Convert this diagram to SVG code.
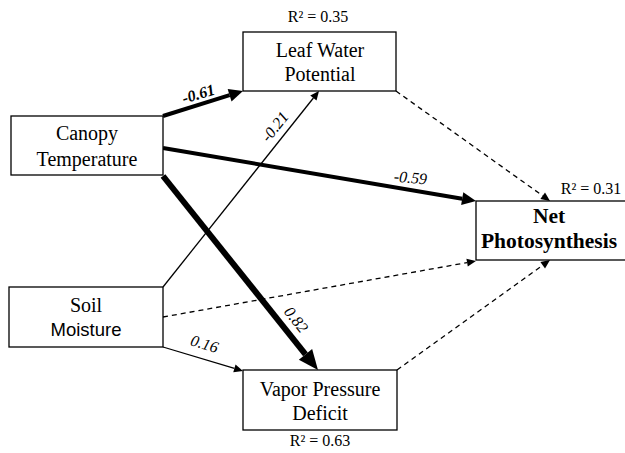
<svg xmlns="http://www.w3.org/2000/svg" width="625" height="453" viewBox="0 0 625 453">
<defs>
<style>
.box{fill:#fff;stroke:#000;stroke-width:1.3}
.t{font-size:20px;text-anchor:middle;fill:#000}
.ts{font-size:18.5px;text-anchor:middle;fill:#000}
.b{font-weight:bold;font-size:21.5px}
.r2{font-size:16px;text-anchor:middle;fill:#000}
.lab{font-size:16px;font-style:italic;text-anchor:middle;fill:#000}
.c{fill:none;stroke:#000}
.thin{stroke-width:1.3}
.dash{stroke-width:1.3;stroke-dasharray:5 4}
</style>
<marker id="ah" viewBox="0 -4 9 8" markerWidth="9" markerHeight="8" refX="0" refY="0" orient="auto" markerUnits="userSpaceOnUse" overflow="visible"><path d="M0,-4 L9,0 L0,4 z" fill="#000"/></marker>
<marker id="ahm" viewBox="0 -6.5 14 13" markerWidth="14" markerHeight="13" refX="0" refY="0" orient="auto" markerUnits="userSpaceOnUse" overflow="visible"><path d="M0,-6.5 L14,0 L0,6.5 z" fill="#000"/></marker>
<marker id="ahl" viewBox="0 -8.5 20 17" markerWidth="20" markerHeight="17" refX="0" refY="0" orient="auto" markerUnits="userSpaceOnUse" overflow="visible"><path d="M0,-8.5 L20,0 L0,8.5 z" fill="#000"/></marker>
</defs>
<rect width="625" height="453" fill="#fff"/>
<g font-family="Liberation Serif, DejaVu Serif, serif">
<g id="connectors">
<line class="c dash" x1="396" y1="91" x2="542.7" y2="195.8" marker-end="url(#ah)"/>
<line class="c dash" x1="397" y1="370" x2="542.7" y2="265.3" marker-end="url(#ah)"/>
<line class="c dash" x1="163" y1="317" x2="467.1" y2="262.6" marker-end="url(#ah)"/>
<line class="c thin" x1="163" y1="287" x2="313.4" y2="98" marker-end="url(#ah)"/>
<line class="c thin" x1="163" y1="347" x2="234.4" y2="368.4" marker-end="url(#ah)"/>
<line class="c" stroke-width="4" x1="163" y1="116" x2="229.6" y2="95.2" marker-end="url(#ahm)"/>
<line class="c" stroke-width="4" x1="163" y1="148" x2="462.2" y2="198.7" marker-end="url(#ahm)"/>
<line class="c" stroke-width="6" x1="163" y1="176" x2="305.5" y2="354.4" marker-end="url(#ahl)"/>
<text class="lab" font-weight="bold" x="200" y="99" transform="rotate(-17 200 99)">-0.61</text>
<text class="lab" x="279" y="130" transform="rotate(-51.5 279 130)">-0.21</text>
<text class="lab" x="410" y="183" transform="rotate(5 410 183)">-0.59</text>
<text class="lab" x="292" y="323" transform="rotate(51.2 292 323)">0.82</text>
<text class="lab" x="203" y="349" transform="rotate(16.7 203 349)">0.16</text>
</g>
<g id="canopy-temperature">
<rect class="box" x="11" y="116" width="152" height="59"/>
<text class="t" x="87" y="140">Canopy</text>
<text class="t" x="87" y="166">Temperature</text>
</g>
<g id="leaf-water-potential">
<rect class="box" x="243" y="32" width="153" height="59"/>
<text class="t" x="320" y="57">Leaf Water</text>
<text class="t" x="320" y="81">Potential</text>
<text class="r2" x="318" y="22">R² = 0.35</text>
</g>
<g id="soil-moisture">
<rect class="box" x="9" y="287" width="154" height="60"/>
<text class="t" x="86" y="312">Soil</text>
<text class="ts" font-family="Liberation Sans, Arial, sans-serif" x="86" y="336">Moisture</text>
</g>
<g id="vapor-pressure-deficit">
<rect class="box" x="243" y="370" width="154" height="60"/>
<text class="t" x="320" y="396">Vapor Pressure</text>
<text class="t" x="320" y="420">Deficit</text>
<text class="r2" x="320" y="446">R² = 0.63</text>
</g>
<g id="net-photosynthesis">
<rect class="box" x="476" y="201" width="152" height="59"/>
<text class="t b" x="549" y="223">Net</text>
<text class="t b" x="549" y="248">Photosynthesis</text>
<text class="r2" x="591" y="194">R² = 0.31</text>
</g>
</g>
</svg>
